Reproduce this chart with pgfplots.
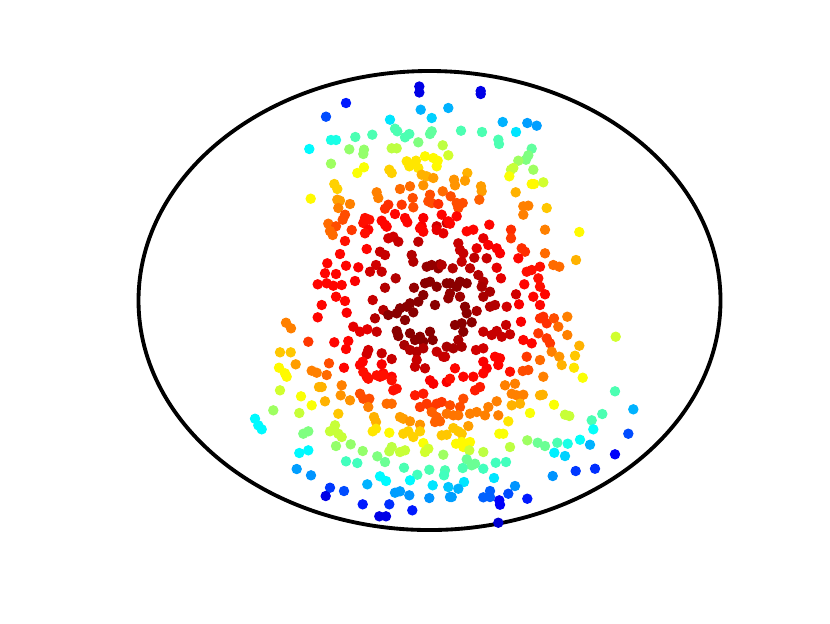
\documentclass[border=0pt]{standalone}
\usepackage{pgfplots}
\pgfplotsset{compat=1.18}

% points in pixel units of the 830x623 figure, c = colour value on the jet map
\pgfplotstableread{
x y c
419.3 86.5 0.10
419.3 92.5 0.10
480.7 91.0 0.10
480.7 94.0 0.10
346.0 103.0 0.15
326.0 116.7 0.20
420.7 109.7 0.30
448.3 108.0 0.30
431.7 118.0 0.33
390.0 119.7 0.35
395.0 128.7 0.45
397.3 131.3 0.45
405.0 137.3 0.45
409.3 134.0 0.45
431.7 131.3 0.47
430.0 134.0 0.47
418.3 142.3 0.50
372.3 134.7 0.45
355.3 137.0 0.45
331.0 140.0 0.40
336.0 140.0 0.40
309.3 149.0 0.37
349.3 149.3 0.52
364.0 149.7 0.52
363.3 154.0 0.52
391.7 148.3 0.56
396.7 148.3 0.56
442.7 145.3 0.56
448.3 155.3 0.58
331.0 163.7 0.53
364.0 167.3 0.62
357.3 173.0 0.62
406.7 161.3 0.65
409.3 166.3 0.65
416.0 160.7 0.65
418.3 168.0 0.65
425.0 156.3 0.63
433.3 158.0 0.63
437.7 160.7 0.63
436.7 166.3 0.63
389.3 169.7 0.67
391.7 173.0 0.67
310.7 198.7 0.63
334.3 184.0 0.67
337.3 189.0 0.67
421.7 174.7 0.70
426.7 176.3 0.70
433.3 178.0 0.72
423.3 185.3 0.73
410.0 186.3 0.77
400.0 189.0 0.77
376.7 192.3 0.75
378.3 198.0 0.75
337.3 199.7 0.72
340.0 200.7 0.72
350.0 204.0 0.75
338.3 208.0 0.75
412.7 198.0 0.80
413.3 207.3 0.80
401.7 204.7 0.82
388.3 204.7 0.83
385.0 208.7 0.83
430.0 194.7 0.80
428.3 201.3 0.80
431.7 203.0 0.80
442.7 191.3 0.77
438.3 204.0 0.83
345.0 214.7 0.80
342.7 219.7 0.80
328.3 223.7 0.77
336.0 226.3 0.80
365.0 218.0 0.86
369.3 219.7 0.86
363.3 223.0 0.86
381.7 220.7 0.87
385.0 224.7 0.87
395.0 214.0 0.87
405.0 218.0 0.87
407.3 222.3 0.87
423.3 218.0 0.88
421.7 226.3 0.88
441.7 214.7 0.87
436.7 226.3 0.92
446.7 223.0 0.92
368.3 229.7 0.87
330.0 231.0 0.77
461.0 130.7 0.45
482.0 132.0 0.45
502.7 122.0 0.30
516.0 132.0 0.35
527.3 123.0 0.28
536.7 125.7 0.28
498.3 139.7 0.45
499.0 144.0 0.45
531.7 148.7 0.47
528.3 155.3 0.50
526.0 159.7 0.50
518.3 160.7 0.53
513.3 168.0 0.57
511.0 169.7 0.57
533.3 169.7 0.53
509.3 176.3 0.62
531.7 184.0 0.63
534.0 184.0 0.63
543.3 182.3 0.58
467.3 173.0 0.70
454.0 179.7 0.73
455.0 185.3 0.73
465.0 180.7 0.72
481.0 186.3 0.72
481.7 191.3 0.72
515.7 192.3 0.70
450.7 196.3 0.80
479.3 199.7 0.78
456.7 203.0 0.80
462.7 203.0 0.80
458.3 208.0 0.80
523.3 206.3 0.75
528.3 205.7 0.75
523.3 214.7 0.75
546.7 208.0 0.68
456.7 216.3 0.87
448.3 221.3 0.87
450.0 223.7 0.87
489.3 224.7 0.87
473.3 229.7 0.87
466.7 231.3 0.87
511.0 229.7 0.83
545.0 229.7 0.75
579.3 232.0 0.63
332.7 235.0 0.77
351.7 230.0 0.82
365.0 233.3 0.86
345.0 241.0 0.86
386.7 226.7 0.87
388.3 238.3 0.92
393.3 236.7 0.92
398.3 241.7 0.93
420.0 228.3 0.87
423.3 231.7 0.87
436.7 230.0 0.90
443.3 233.3 0.90
418.3 241.7 0.94
366.7 249.0 0.87
340.0 254.0 0.87
380.0 251.7 0.93
385.0 255.0 0.93
411.7 255.0 0.95
413.3 261.7 0.95
327.3 263.3 0.87
346.0 265.7 0.87
358.3 267.3 0.88
376.0 265.0 0.92
370.0 271.7 0.92
381.7 271.7 0.93
426.7 266.7 0.98
431.7 265.0 0.98
440.0 264.3 0.98
438.3 268.3 0.98
325.0 273.3 0.87
336.0 274.0 0.87
317.7 284.3 0.87
326.7 283.3 0.87
333.3 285.7 0.87
341.7 285.0 0.87
355.0 281.0 0.88
395.7 278.3 0.95
385.0 287.7 0.95
414.0 287.7 0.98
425.0 283.3 0.99
430.0 281.7 0.99
436.7 286.7 0.99
446.7 283.3 0.99
336.0 296.7 0.87
345.0 301.0 0.87
372.7 300.0 0.93
321.7 305.0 0.87
346.7 312.7 0.88
383.3 310.0 0.95
375.0 318.3 0.95
400.0 308.3 0.99
406.7 306.7 0.99
410.0 303.3 0.99
418.3 301.7 0.99
423.3 295.0 0.99
435.0 305.0 0.99
388.3 315.0 0.99
396.7 313.3 0.99
405.0 320.0 0.99
413.3 312.3 0.99
317.7 317.3 0.87
286.0 322.7 0.75
291.0 328.3 0.75
353.3 326.7 0.90
360.0 331.7 0.90
367.3 329.3 0.90
376.7 331.7 0.93
396.7 331.0 0.99
398.3 336.0 0.99
410.0 333.3 0.99
415.0 340.0 0.99
420.0 336.7 0.99
430.0 331.7 0.99
432.7 340.0 0.99
423.3 341.7 0.99
404.3 345.0 0.96
308.3 341.7 0.82
334.3 342.3 0.87
348.3 341.0 0.87
346.0 349.0 0.87
368.3 350.0 0.92
366.7 354.3 0.92
381.7 353.3 0.93
391.7 359.0 0.93
410.0 350.0 0.95
416.7 351.7 0.95
423.3 348.3 0.95
416.7 360.0 0.93
415.0 366.7 0.93
425.0 368.3 0.93
436.7 351.7 0.93
443.3 356.7 0.93
280.0 352.3 0.68
290.7 352.3 0.68
295.7 364.3 0.72
279.0 367.7 0.63
285.0 373.3 0.63
286.7 376.7 0.63
311.7 370.7 0.75
316.7 372.7 0.75
329.0 363.3 0.80
326.7 375.0 0.77
344.0 367.7 0.87
362.7 361.7 0.87
360.0 365.0 0.87
381.7 364.3 0.88
383.3 373.3 0.87
380.0 376.7 0.87
366.7 376.7 0.87
391.7 376.7 0.87
483.3 238.3 0.90
511.0 238.3 0.82
458.3 243.3 0.93
460.0 250.0 0.93
463.3 253.3 0.93
476.7 248.3 0.90
488.3 245.0 0.88
496.7 248.3 0.88
500.0 253.3 0.88
521.7 248.3 0.83
525.0 251.7 0.83
545.0 253.3 0.77
576.0 260.0 0.70
518.3 258.3 0.87
441.7 265.0 0.95
452.7 268.3 0.95
461.7 261.7 0.93
474.3 257.7 0.94
486.7 258.3 0.93
470.0 268.3 0.94
496.7 267.7 0.90
526.7 271.7 0.86
531.7 270.0 0.86
540.0 266.7 0.86
553.3 265.0 0.77
559.3 266.7 0.77
478.3 275.0 0.95
483.3 281.7 0.95
501.0 278.3 0.90
450.0 283.3 0.99
460.0 281.7 0.99
466.7 283.3 0.99
456.7 286.7 0.99
481.7 286.7 0.96
490.0 291.7 0.96
450.0 293.3 0.98
448.3 298.3 0.98
460.0 296.7 0.97
483.3 296.7 0.96
524.3 284.3 0.87
538.3 278.3 0.86
540.0 286.7 0.86
516.0 294.3 0.92
533.3 296.7 0.87
545.0 294.3 0.87
519.0 304.3 0.88
540.0 305.0 0.87
506.7 306.7 0.92
495.0 305.0 0.95
490.0 306.7 0.95
465.0 306.7 0.99
466.7 313.3 0.99
476.7 311.0 0.96
455.0 325.0 0.99
461.7 323.3 0.99
463.3 331.7 0.99
471.7 322.3 0.99
483.3 331.7 0.93
491.7 335.0 0.93
496.7 331.0 0.93
501.7 336.7 0.93
510.0 334.3 0.93
506.0 325.0 0.93
521.0 321.7 0.88
540.0 318.3 0.83
543.3 316.7 0.83
546.7 323.3 0.83
554.0 318.3 0.80
567.3 316.7 0.75
558.3 326.7 0.77
567.3 335.0 0.75
538.3 333.3 0.82
546.7 338.3 0.82
550.0 343.3 0.82
615.7 336.7 0.58
446.7 346.7 0.96
453.3 348.3 0.96
458.3 340.0 0.96
461.7 346.7 0.96
476.0 350.0 0.92
483.3 348.3 0.92
523.3 340.0 0.87
531.7 343.3 0.87
551.7 351.7 0.75
579.3 345.7 0.70
575.0 355.7 0.68
559.3 356.7 0.73
495.0 356.7 0.87
500.0 358.3 0.87
498.3 365.0 0.87
483.3 361.7 0.88
486.7 368.3 0.88
526.7 356.7 0.82
540.0 360.0 0.77
561.7 365.0 0.70
574.0 367.7 0.65
582.7 377.7 0.62
510.0 371.7 0.86
522.7 371.0 0.80
528.3 370.0 0.80
543.3 376.7 0.75
455.0 368.3 0.87
463.3 376.7 0.87
473.3 376.7 0.87
483.3 373.3 0.87
445.0 356.7 0.93
363.3 372.0 0.86
368.3 378.7 0.86
376.7 375.3 0.86
383.3 375.3 0.86
391.7 380.3 0.86
396.7 388.7 0.86
393.3 390.3 0.86
430.0 380.3 0.88
433.3 383.7 0.88
446.7 382.0 0.88
280.0 390.3 0.58
301.0 396.3 0.62
311.7 405.3 0.62
319.0 387.0 0.70
321.7 387.0 0.70
341.7 385.3 0.75
340.7 395.3 0.73
350.0 400.3 0.73
325.0 401.3 0.70
360.0 393.7 0.80
363.3 398.7 0.80
369.3 398.7 0.80
368.3 407.0 0.75
386.7 403.7 0.77
391.7 403.7 0.77
415.0 395.3 0.85
423.3 393.7 0.85
420.0 407.0 0.82
426.7 403.7 0.82
431.7 408.7 0.82
436.7 403.7 0.82
441.7 402.0 0.82
273.3 410.3 0.53
255.0 418.7 0.37
258.3 425.3 0.37
261.7 429.3 0.37
299.3 413.0 0.57
338.3 413.7 0.68
374.0 417.0 0.70
376.0 422.0 0.70
400.0 417.0 0.72
403.3 418.7 0.72
410.0 421.3 0.73
420.0 424.7 0.73
431.7 412.0 0.78
436.7 417.0 0.78
440.0 421.3 0.78
435.0 422.0 0.78
303.3 433.7 0.50
308.3 431.3 0.50
330.0 431.3 0.57
335.0 425.3 0.57
338.3 433.7 0.57
341.7 437.0 0.57
372.7 431.3 0.65
376.0 428.7 0.65
389.3 432.7 0.63
403.3 433.7 0.67
408.3 431.3 0.67
413.3 437.0 0.67
420.0 431.3 0.67
423.3 443.0 0.62
441.7 435.3 0.68
446.7 434.7 0.68
336.0 446.0 0.52
350.7 444.3 0.52
362.7 451.0 0.52
391.7 447.0 0.56
389.3 451.3 0.56
400.0 452.0 0.57
405.0 450.3 0.57
425.0 452.0 0.58
428.3 448.7 0.58
443.3 454.7 0.53
299.3 453.0 0.37
308.3 450.3 0.37
377.3 456.3 0.50
385.0 462.0 0.48
346.0 461.3 0.44
357.3 463.0 0.44
404.0 467.7 0.45
429.3 469.7 0.45
445.0 470.3 0.45
417.3 474.7 0.44
296.7 469.0 0.28
311.0 475.3 0.27
380.0 476.3 0.37
386.0 481.0 0.37
410.0 480.3 0.37
444.0 475.3 0.44
367.3 484.3 0.30
432.7 485.3 0.35
448.3 487.0 0.32
330.0 487.7 0.18
344.0 491.0 0.20
325.7 496.0 0.10
395.0 492.7 0.28
400.0 491.3 0.28
409.3 495.3 0.27
429.3 498.0 0.27
450.0 497.0 0.28
362.7 504.3 0.15
389.3 504.3 0.17
412.3 510.3 0.15
379.3 516.3 0.10
386.0 516.3 0.10
450.0 378.7 0.86
480.0 387.0 0.85
475.0 390.3 0.85
505.0 385.3 0.75
515.0 383.7 0.75
615.0 391.3 0.45
633.3 409.3 0.30
628.3 433.7 0.20
615.0 454.3 0.12
540.0 395.3 0.70
542.7 394.7 0.70
554.0 404.7 0.62
530.0 413.0 0.62
565.0 414.7 0.57
569.3 416.0 0.57
602.3 414.0 0.45
591.7 420.3 0.45
593.3 429.3 0.38
511.7 393.7 0.75
516.7 395.3 0.75
523.3 394.7 0.75
511.7 405.3 0.70
520.0 403.7 0.70
496.7 401.3 0.75
488.3 407.0 0.75
498.3 415.3 0.75
508.3 421.3 0.65
476.7 412.0 0.75
470.0 413.7 0.75
485.0 415.3 0.75
460.0 407.0 0.80
463.3 398.7 0.80
450.0 405.3 0.80
446.7 413.7 0.76
453.3 415.3 0.76
458.3 415.3 0.76
468.3 426.0 0.72
453.3 428.0 0.68
458.3 431.3 0.68
461.7 433.7 0.68
499.3 433.7 0.62
503.3 433.7 0.62
456.0 443.7 0.63
461.7 442.0 0.63
463.3 447.0 0.63
470.0 442.0 0.63
469.3 450.3 0.57
483.3 452.0 0.56
510.0 447.0 0.56
527.3 440.3 0.53
537.7 442.7 0.48
545.0 446.0 0.48
557.3 442.7 0.45
567.7 443.7 0.40
580.0 439.7 0.38
590.0 444.7 0.30
554.3 452.7 0.36
565.0 456.0 0.33
466.7 459.3 0.48
471.7 465.3 0.48
475.0 463.7 0.48
462.7 468.0 0.45
483.3 468.7 0.44
495.7 462.7 0.44
506.0 462.0 0.44
494.0 478.0 0.35
464.0 482.0 0.35
458.3 488.7 0.30
451.7 497.0 0.28
515.0 486.0 0.27
552.7 476.0 0.27
575.7 471.0 0.18
595.0 468.7 0.17
490.0 491.0 0.22
483.3 497.3 0.22
490.0 497.0 0.22
508.3 493.7 0.20
499.3 500.3 0.12
500.0 504.7 0.12
527.3 498.7 0.15
498.3 522.7 0.08
}\pts

\begin{document}
\begin{tikzpicture}
\begin{axis}[
    scale only axis,
    width=11cm, height=8.2566cm,
    xmin=0, xmax=830, ymin=0, ymax=623,
    y dir=reverse,
    hide axis,
    clip=false,
    colormap/jet,
    point meta min=0, point meta max=1,
]
\path (axis cs:0,0) rectangle (axis cs:830,623);
\draw[line width=1.45pt, black] (axis cs:429.5,300.5) ellipse [x radius=291, y radius=229.5];
\addplot[scatter, only marks, mark=*, mark size=1.75pt, scatter src=explicit,
    scatter/use mapped color={draw=mapped color, fill=mapped color}]
    table[x=x, y=y, meta=c] {\pts};
\end{axis}
\end{tikzpicture}
\end{document}
